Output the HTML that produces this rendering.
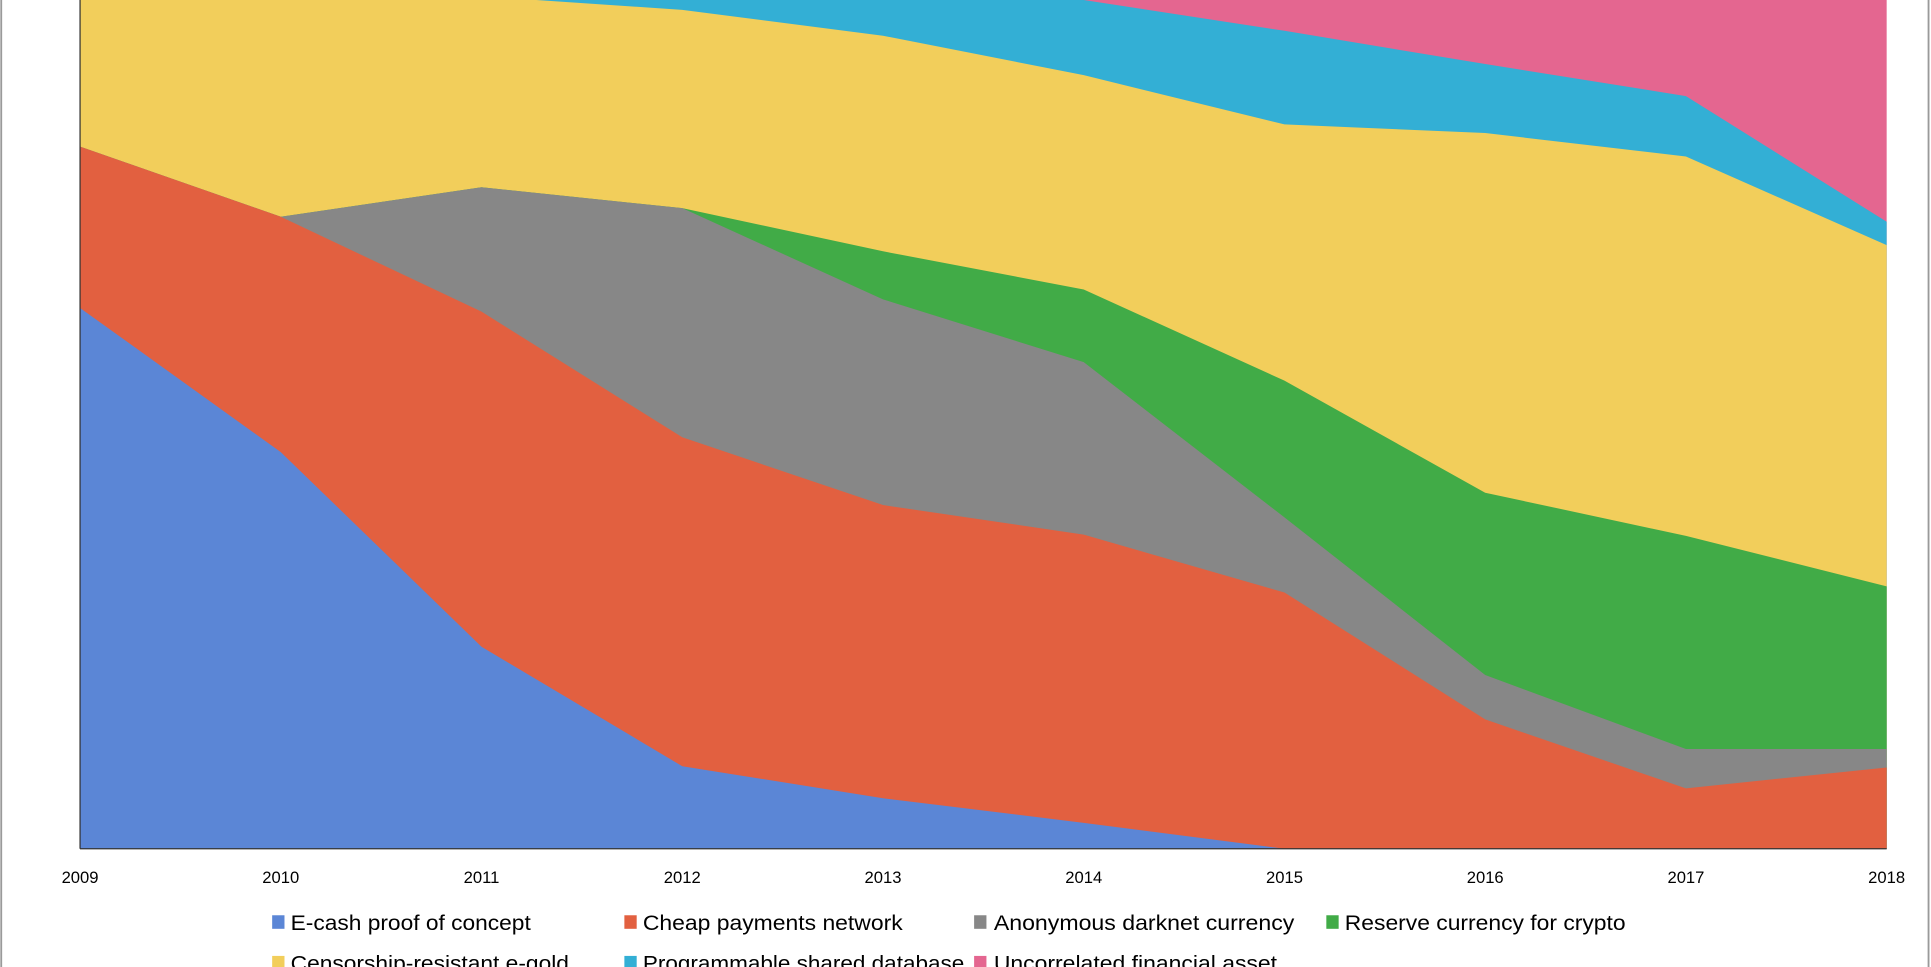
<!DOCTYPE html>
<html><head><meta charset="utf-8"><style>html,body{margin:0;padding:0;background:#fff;overflow:hidden}svg{display:block}</style></head>
<body>
<svg width="1931" height="967" viewBox="0 0 1568 785" preserveAspectRatio="none" xmlns="http://www.w3.org/2000/svg" font-family="'Liberation Sans', sans-serif">
<rect x="0" y="0" width="1568" height="785" fill="#fff"/>
<line x1="1" y1="0" x2="1" y2="785" stroke="#9a9a9a" stroke-width="1.5"/>
<line x1="1566" y1="0" x2="1566" y2="785" stroke="#9a9a9a" stroke-width="1.5"/>
<!-- pink -->
<polygon fill="#E46690" points="65,-50 1532,-50 1532,689 65,689"/>
<!-- cyan -->
<polygon fill="#33AFD5" points="65,-40 228,-20 391,-5 554,-10 717,-5 880,0 1043,25 1206,52 1369,78 1532,180 1532,689 65,689"/>
<!-- yellow -->
<polygon fill="#F2CE5B" points="65,-40 228,-20 391,-3 554,8 717,29 880,61 1043,101 1206,108 1369,127 1532,199 1532,689 65,689"/>
<!-- green -->
<polygon fill="#41AB47" points="65,119 228,176 391,152 554,169 717,204 880,235 1043,309 1206,400 1369,435 1532,476 1532,689 65,689"/>
<!-- gray -->
<polygon fill="#878787" points="65,119 228,176 391,152 554,169 717,243 880,294 1043,420 1206,548 1369,608 1532,608 1532,689 65,689"/>
<!-- red -->
<polygon fill="#E26040" points="65,119 228,176 391,253 554,355 717,410 880,434 1043,481 1206,584 1369,640 1532,623 1532,689 65,689"/>
<!-- blue -->
<polygon fill="#5B86D6" points="65,250 228,367 391,525 554,622 717,648 880,668 1043,689 1532,689 65,689"/>
<line x1="65" y1="0" x2="65" y2="689" stroke="#333" stroke-width="1"/>
<line x1="65" y1="689" x2="1532" y2="689" stroke="#333" stroke-width="1"/>
<g font-size="13.5" fill="#000" text-anchor="middle">
<text x="65" y="717">2009</text><text x="228" y="717">2010</text><text x="391" y="717">2011</text><text x="554" y="717">2012</text><text x="717" y="717">2013</text><text x="880" y="717">2014</text><text x="1043" y="717">2015</text><text x="1206" y="717">2016</text><text x="1369" y="717">2017</text><text x="1532" y="717">2018</text>
</g>
<g font-size="17.5" fill="#000">
<rect x="221" y="743" width="10" height="11" fill="#5B86D6"/><text x="236" y="755" textLength="195" lengthAdjust="spacingAndGlyphs">E-cash proof of concept</text>
<rect x="507" y="743" width="10" height="11" fill="#E26040"/><text x="522" y="755" textLength="211" lengthAdjust="spacingAndGlyphs">Cheap payments network</text>
<rect x="791" y="743" width="10" height="11" fill="#878787"/><text x="807" y="755" textLength="244" lengthAdjust="spacingAndGlyphs">Anonymous darknet currency</text>
<rect x="1077" y="743" width="10" height="11" fill="#41AB47"/><text x="1092" y="755" textLength="228" lengthAdjust="spacingAndGlyphs">Reserve currency for crypto</text>
<rect x="221" y="776" width="10" height="11" fill="#F2CE5B"/><text x="236" y="788" textLength="226" lengthAdjust="spacingAndGlyphs">Censorship-resistant e-gold</text>
<rect x="507" y="776" width="10" height="11" fill="#33AFD5"/><text x="522" y="788" textLength="261" lengthAdjust="spacingAndGlyphs">Programmable shared database</text>
<rect x="791" y="776" width="10" height="11" fill="#E46690"/><text x="807" y="788" textLength="230" lengthAdjust="spacingAndGlyphs">Uncorrelated financial asset</text>
</g>
</svg>
</body></html>
